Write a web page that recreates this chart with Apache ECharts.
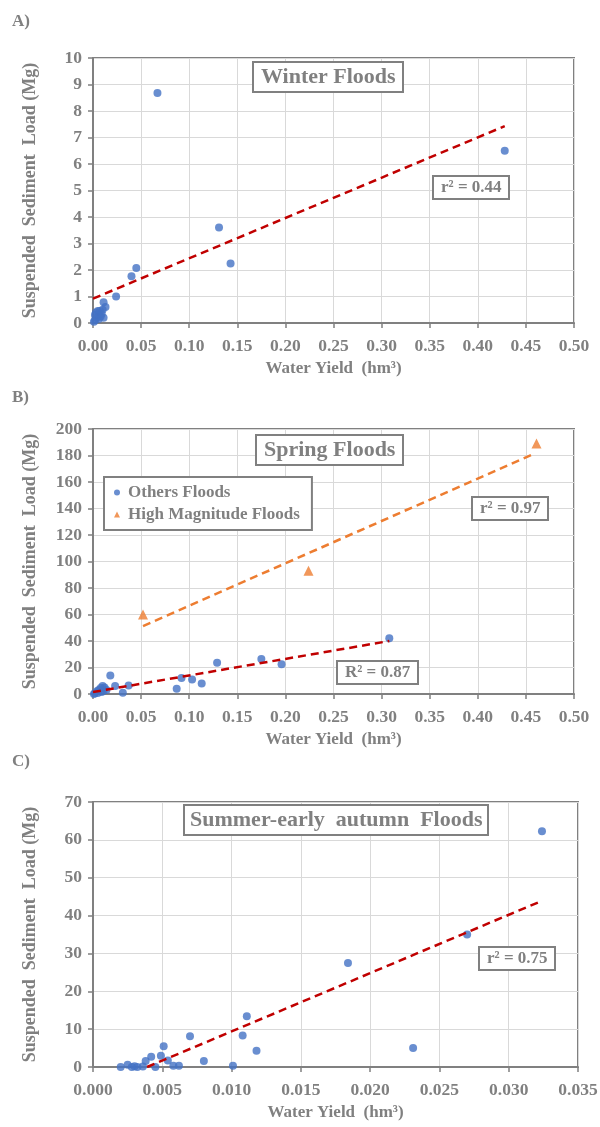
<!DOCTYPE html>
<html>
<head>
<meta charset="utf-8">
<script src="https://cdn.jsdelivr.net/npm/echarts@6/dist/echarts.min.js"></script>
<style>
  html, body { margin: 0; padding: 0; background: #ffffff; }
  #chart { width: 600px; height: 1127px; }
</style>
</head>
<body>
<div id="chart"></div>
<script>
// Winter floods: water yield (hm³) vs suspended sediment load (Mg)
const winterYield = [0.067, 0.428, 0.131, 0.143, 0.045, 0.040, 0.024, 0.011, 0.013, 0.010, 0.005, 0.003, 0.002, 0.004, 0.008, 0.011, 0.006, 0.002, 0.009, 0.007, 0.001];
const winterLoad  = [8.68, 6.50, 3.60, 2.25, 2.08, 1.76, 1.00, 0.78, 0.60, 0.50, 0.45, 0.40, 0.30, 0.20, 0.25, 0.20, 0.15, 0.10, 0.35, 0.45, 0.05];
const winterTrendYield = [0, 0.428];
const winterTrendLoad  = [0.92, 7.43];

// Spring floods: ordinary events and high magnitude events
const springOtherYield = [0.308, 0.196, 0.175, 0.129, 0.113, 0.103, 0.092, 0.087, 0.037, 0.031, 0.023, 0.018, 0.012, 0.010, 0.008, 0.006, 0.004, 0.002, 0.014, 0.009, 0.005, 0.011, 0.001];
const springOtherLoad  = [42.0, 22.5, 26.5, 23.5, 8.0, 11.0, 12.0, 4.0, 6.5, 1.0, 6.0, 14.0, 5.0, 6.0, 4.5, 3.0, 2.0, 0.5, 3.0, 1.5, 0.8, 2.5, 0.0];
const springHighYield  = [0.052, 0.224, 0.461];
const springHighLoad   = [60, 93, 189];
const springOtherTrendYield = [0, 0.308];
const springOtherTrendLoad  = [1.5, 40.0];
const springHighTrendYield  = [0.052, 0.459];
const springHighTrendLoad   = [51.2, 181.5];

// Summer-early autumn floods
const summerYield = [0.0324, 0.0270, 0.0184, 0.0231, 0.0118, 0.0111, 0.0108, 0.0101, 0.0080, 0.0070, 0.0062, 0.0058, 0.0054, 0.0051, 0.0049, 0.0045, 0.0042, 0.0038, 0.0036, 0.0032, 0.0028, 0.0025, 0.0020, 0.0030];
const summerLoad  = [62.3, 35.0, 27.5, 5.0, 4.3, 13.4, 8.3, 0.3, 1.6, 8.1, 0.3, 0.3, 1.7, 5.5, 3.0, 0.0, 2.7, 1.6, 0.1, 0.0, 0.0, 0.6, 0.0, 0.2];
const summerTrendYield = [0.0039, 0.0324];
const summerTrendLoad  = [0.0, 43.9];

// Text
const panelLabels = ['A)', 'B)', 'C)'];
const panelTitles = ['Winter Floods', 'Spring Floods', 'Summer-early  autumn  Floods'];
const fitLabels = ['r\u00b2 = 0.44', 'r\u00b2 = 0.97', 'R\u00b2 = 0.87', 'r\u00b2 = 0.75'];
const seriesNames = ['Others Floods', 'High Magnitude Floods'];
const xName = 'Water Yield  (hm\u00b3)';
const yName = 'Suspended  Sediment  Load (Mg)';

const GREY = '#808080';
const BLUE = '#4472C4';
const ORANGE = '#ED7D31';
const RED = '#C00000';
const FONT = '"Liberation Serif", "DejaVu Serif", serif';

const pairs = (xs, ys) => xs.map((x, i) => [x, ys[i]]);

function xAxis(gridIndex, max, interval, digits) {
  return {
    type: 'value', gridIndex, min: 0, max, interval,
    name: xName, nameLocation: 'middle', nameGap: 37,
    nameTextStyle: { color: GREY, fontFamily: FONT, fontWeight: 'bold', fontSize: 17 },
    axisLine: { show: true, onZero: false, lineStyle: { color: GREY, width: 2 } },
    axisTick: { show: true, length: 5, lineStyle: { color: GREY, width: 1.5 } },
    axisLabel: { margin: 14, color: GREY, fontFamily: FONT, fontWeight: 'bold', fontSize: 17.5,
                 formatter: v => v.toFixed(digits) },
    splitLine: { show: true, lineStyle: { color: '#d9d9d9', width: 1 } }
  };
}
function yAxis(gridIndex, max, interval) {
  return {
    type: 'value', gridIndex, min: 0, max, interval,
    name: yName, nameLocation: 'middle', nameGap: 54, nameRotate: 90,
    nameTextStyle: { color: GREY, fontFamily: FONT, fontWeight: 'bold', fontSize: 18 },
    axisLine: { show: true, onZero: false, lineStyle: { color: GREY, width: 2 } },
    axisTick: { show: true, length: 5, lineStyle: { color: GREY, width: 1.5 } },
    axisLabel: { margin: 11, color: GREY, fontFamily: FONT, fontWeight: 'bold', fontSize: 17.5 },
    splitLine: { show: true, lineStyle: { color: '#d9d9d9', width: 1 } }
  };
}
function grid(left, top, right, height) {
  return { left, top, right, height, show: true, borderColor: GREY, borderWidth: 2,
           backgroundColor: '#ffffff', containLabel: false, outerBoundsMode: 'none' };
}
function label(text, left, top) {
  return { text, left, top, padding: 0,
           textStyle: { color: GREY, fontFamily: FONT, fontWeight: 'bold', fontSize: 17 } };
}
function boxed(text, left, top, size, pad) {
  return { text, left, top, padding: pad, borderColor: GREY, borderWidth: 2, backgroundColor: '#ffffff',
           textStyle: { color: GREY, fontFamily: FONT, fontWeight: 'bold', fontSize: size } };
}
function dots(name, data, xi, symbol, color, size) {
  return { name, type: 'scatter', xAxisIndex: xi, yAxisIndex: xi, data, symbol, symbolSize: size,
           itemStyle: { color }, z: 3, silent: true };
}
function trend(data, xi, color) {
  return { type: 'line', xAxisIndex: xi, yAxisIndex: xi, data, symbol: 'none', z: 4, silent: true,
           lineStyle: { color, width: 2.5, type: [8, 5] } };
}

const option = {
  animation: false,
  backgroundColor: '#ffffff',
  grid: [
    grid(93, 58, 26, 265),
    grid(93, 429, 26, 265),
    grid(93, 802, 22, 265)
  ],
  xAxis: [xAxis(0, 0.5, 0.05, 2), xAxis(1, 0.5, 0.05, 2), xAxis(2, 0.035, 0.005, 3)],
  yAxis: [yAxis(0, 10, 1), yAxis(1, 200, 20), yAxis(2, 70, 10)],
  title: [
    label(panelLabels[0], 12, 13),
    label(panelLabels[1], 12, 389),
    label(panelLabels[2], 12, 753),
    boxed(panelTitles[0], 253, 62, 22, [4, 8]),
    boxed(panelTitles[1], 256, 435, 22, [4, 8]),
    boxed(panelTitles[2], 184, 805, 22, [4, 6]),
    boxed(fitLabels[0], 433, 176, 17, [3, 8]),
    boxed(fitLabels[1], 472, 497, 17, [3, 8]),
    boxed(fitLabels[2], 337, 661, 17, [3, 8]),
    boxed(fitLabels[3], 479, 947, 17, [3, 8])
  ],
  legend: {
    left: 104, top: 477, orient: 'vertical',
    padding: [7, 12, 7, 10], itemGap: 5, itemWidth: 6, itemHeight: 6,
    borderColor: GREY, borderWidth: 2, backgroundColor: '#ffffff',
    textStyle: { color: GREY, fontFamily: FONT, fontWeight: 'bold', fontSize: 17, padding: [0, 0, 0, 3] },
    data: [
      { name: seriesNames[0], icon: 'circle', itemStyle: { color: BLUE } },
      { name: seriesNames[1], icon: 'triangle', itemStyle: { color: ORANGE } }
    ]
  },
  series: [
    trend(pairs(winterTrendYield, winterTrendLoad), 0, RED),
    dots('Winter', pairs(winterYield, winterLoad), 0, 'circle', BLUE, 8),

    trend(pairs(springOtherTrendYield, springOtherTrendLoad), 1, RED),
    trend(pairs(springHighTrendYield, springHighTrendLoad), 1, ORANGE),
    dots(seriesNames[0], pairs(springOtherYield, springOtherLoad), 1, 'circle', BLUE, 8),
    dots(seriesNames[1], pairs(springHighYield, springHighLoad), 1, 'triangle', ORANGE, 10),

    trend(pairs(summerTrendYield, summerTrendLoad), 2, RED),
    dots('Summer', pairs(summerYield, summerLoad), 2, 'circle', BLUE, 8)
  ]
};

const chart = echarts.init(document.getElementById('chart'), null, { renderer: 'canvas' });
chart.setOption(option);
</script>
</body>
</html>
